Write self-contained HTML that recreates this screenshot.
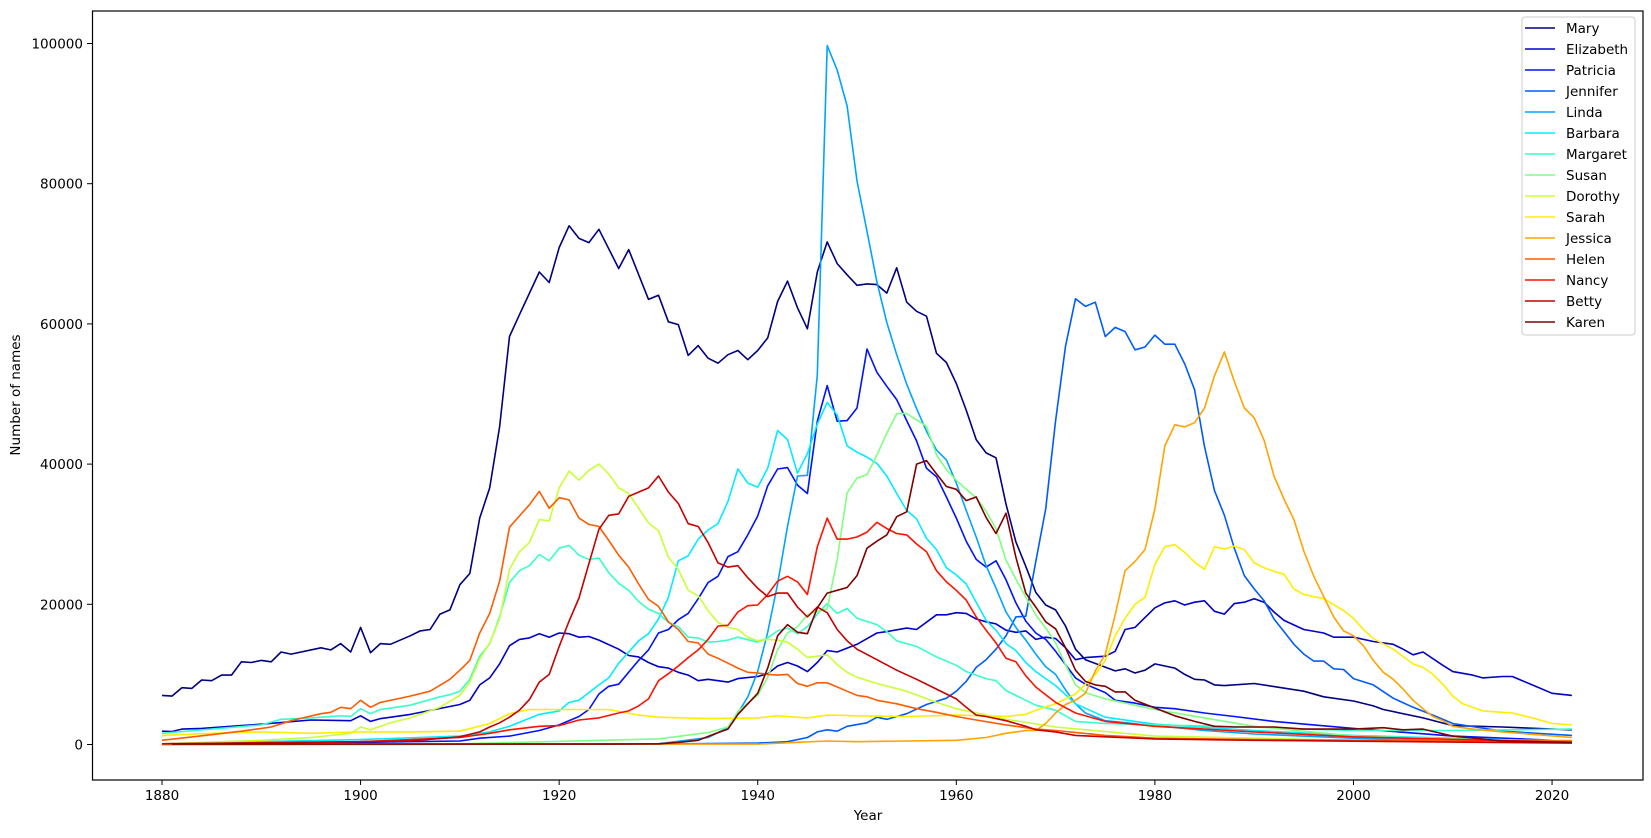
<!DOCTYPE html>
<html><head><meta charset="utf-8"><style>
html,body{margin:0;padding:0;background:#fff;}
svg text{font-family:"DejaVu Sans","Liberation Sans",sans-serif;fill:#000;}
</style></head><body>
<svg id="s" width="1651" height="833" xmlns="http://www.w3.org/2000/svg">
<rect x="0" y="0" width="1651" height="833" fill="#fff"/>
<g id="lines"></g>
<rect x="92.5" y="11" width="1550.5" height="769" fill="none" stroke="#000" stroke-width="1.2"/>
<g id="ticks" font-size="13.5"></g>
<text x="868" y="820" font-size="13.5" text-anchor="middle">Year</text>
<text transform="translate(20,395) rotate(-90)" font-size="13.5" text-anchor="middle">Number of names</text>
<g id="legend"></g>
</svg>
<script>
var X=function(y){return 162+(y-1880)*9.929;};
var Y=function(v){return 744.5-v*7.01;};
var S=[
["Mary","#000080",[1880,7,1881,6.9,1882,8.1,1883,8,1884,9.2,1885,9.1,1886,9.9,1887,9.9,1888,11.8,1889,11.7,1890,12,1891,11.8,1892,13.2,1893,12.9,1896,13.8,1897,13.5,1898,14.4,1899,13.2,1900,16.7,1901,13.1,1902,14.4,1903,14.3,1905,15.5,1906,16.2,1907,16.4,1908,18.6,1909,19.2,1910,22.8,1911,24.4,1912,32.3,1913,36.6,1914,45.3,1915,58.2,1916,61.3,1918,67.4,1919,65.9,1920,70.9,1921,74,1922,72.2,1923,71.6,1924,73.5,1926,67.9,1927,70.6,1929,63.5,1930,64.1,1931,60.3,1932,59.9,1933,55.5,1934,56.9,1935,55.1,1936,54.4,1937,55.6,1938,56.2,1939,54.9,1940,56.2,1941,58,1942,63.2,1943,66.1,1944,62.3,1945,59.3,1946,67.4,1947,71.7,1948,68.6,1949,67,1950,65.5,1951,65.7,1952,65.6,1953,64.4,1954,68,1955,63.1,1956,61.8,1957,61.1,1958,55.8,1959,54.5,1960,51.5,1961,47.7,1962,43.5,1963,41.6,1964,40.9,1965,34.3,1966,28.9,1967,25.4,1968,21.7,1969,19.9,1970,19.2,1971,16.9,1972,13.6,1973,12.1,1976,10.5,1977,10.8,1978,10.2,1979,10.6,1980,11.5,1982,10.9,1983,10,1984,9.3,1985,9.2,1986,8.5,1987,8.4,1990,8.7,1995,7.6,1997,6.8,2000,6.2,2002,5.5,2003,5,2007,3.8,2010,2.7,2015,2.5,2020,2.2,2022,2.1]],
["Elizabeth","#0000c8",[1880,1.9,1881,1.85,1882,2.2,1884,2.3,1888,2.7,1890,2.9,1895,3.5,1899,3.4,1900,4.1,1901,3.3,1902,3.7,1905,4.3,1910,5.7,1911,6.3,1912,8.5,1913,9.5,1914,11.5,1915,14.1,1916,15,1917,15.2,1918,15.8,1919,15.3,1920,15.9,1921,15.8,1922,15.3,1923,15.4,1924,14.9,1926,13.6,1927,12.7,1928,12.5,1929,11.7,1930,11.1,1931,10.9,1932,10.3,1933,9.9,1934,9.1,1935,9.3,1936,9.1,1937,8.9,1938,9.4,1940,9.7,1941,10.1,1942,11.2,1943,11.7,1944,11.2,1945,10.4,1946,11.7,1947,13.4,1948,13.2,1950,14.3,1952,15.9,1953,16.1,1955,16.6,1956,16.4,1958,18.5,1959,18.5,1960,18.8,1961,18.7,1962,17.9,1963,17.5,1964,17.2,1965,16.3,1966,16,1967,16.2,1968,15,1969,15.3,1970,15.1,1971,13.8,1972,12.1,1973,12.4,1975,12.6,1976,13.3,1977,16.4,1978,16.7,1980,19.5,1981,20.2,1982,20.5,1983,19.9,1984,20.3,1985,20.5,1986,19,1987,18.6,1988,20.1,1989,20.3,1990,20.8,1991,20.3,1992,18.9,1993,17.7,1995,16.4,1997,15.9,1998,15.3,2000,15.3,2002,14.7,2004,14.3,2005,13.6,2006,12.8,2007,13.2,2009,11.3,2010,10.4,2012,9.9,2013,9.5,2015,9.7,2016,9.7,2018,8.5,2020,7.3,2022,7]],
["Patricia","#0012ff",[1880,0.1,1900,0.3,1910,0.5,1912,0.9,1915,1.2,1918,2,1920,2.8,1922,4,1923,5,1924,7.2,1925,8.3,1926,8.6,1928,12,1929,13.5,1930,15.9,1931,16.4,1932,17.8,1933,18.7,1934,20.8,1935,23.1,1936,24,1937,26.8,1938,27.5,1939,29.9,1940,32.6,1941,36.9,1942,39.3,1943,39.5,1944,37,1945,35.8,1946,46.1,1947,51.2,1948,46.1,1949,46.2,1950,48,1951,56.4,1952,53.1,1953,51.1,1954,49.2,1955,46.2,1956,43.3,1957,39.4,1958,38.2,1959,35.3,1960,32.3,1961,29,1962,26.4,1963,25.3,1964,26.2,1965,23.5,1966,20.2,1967,17.6,1968,15.9,1969,15,1970,13.3,1971,11.4,1972,9.5,1973,8.6,1975,7.4,1976,6.3,1978,5.9,1980,5.3,1982,5.1,1985,4.5,1988,4,1992,3.3,2000,2.3,2010,1.2,2022,0.5]],
["Jennifer","#005bff",[1880,0,1930,0.05,1940,0.2,1943,0.4,1945,1,1946,1.8,1947,2.1,1948,1.9,1949,2.6,1951,3.1,1952,3.9,1953,3.6,1955,4.4,1957,5.7,1959,6.6,1960,7.6,1961,9,1962,11,1963,12.1,1964,13.6,1965,15.5,1966,18.2,1967,18.3,1968,26.1,1969,33.6,1970,46.2,1971,56.8,1972,63.6,1973,62.5,1974,63.1,1975,58.2,1976,59.5,1977,58.9,1978,56.3,1979,56.7,1980,58.4,1981,57.1,1982,57.1,1983,54.3,1984,50.6,1985,42.5,1986,36.2,1987,32.7,1988,28,1989,24.1,1990,22.2,1991,20.5,1992,17.9,1993,16.1,1994,14.3,1995,12.9,1996,11.9,1997,11.9,1998,10.8,1999,10.7,2000,9.4,2002,8.5,2004,6.6,2006,5.3,2008,4.2,2010,3,2015,1.9,2022,1.3]],
["Linda","#00a4ff",[1880,0.03,1930,0.1,1935,1,1937,2.4,1938,4.5,1939,6.8,1940,10.4,1941,16,1942,22.9,1943,31.1,1944,38.3,1945,38.4,1946,52.7,1947,99.7,1948,96.2,1949,91.1,1950,80.4,1951,73.2,1952,66,1953,60.2,1954,55.6,1955,51.4,1956,47.9,1957,44.7,1958,42,1959,40.6,1960,37.3,1961,33.4,1962,29.6,1963,25.5,1964,22.3,1965,18.9,1966,16.7,1967,14.9,1968,12.9,1969,11.1,1970,10,1971,7.8,1972,5.8,1973,4.5,1975,3.4,1980,2.7,1985,2,1990,1.5,2000,0.9,2022,0.3]],
["Barbara","#00edff",[1880,0.1,1900,0.7,1910,1.2,1913,1.8,1915,2.6,1918,4.3,1920,4.8,1921,6,1922,6.3,1923,7.4,1924,8.5,1925,9.5,1926,11.6,1927,13.2,1928,14.8,1929,15.8,1930,17.9,1931,21,1932,26.2,1933,26.9,1934,29.3,1935,30.6,1936,31.5,1937,34.7,1938,39.3,1939,37.3,1940,36.7,1941,39.4,1942,44.8,1943,43.5,1944,38.7,1945,41.5,1946,45.7,1947,48.8,1948,47,1949,42.6,1950,41.7,1951,41,1952,40.1,1953,38.3,1954,35.8,1955,33.4,1956,32.2,1957,29.4,1958,27.8,1959,25.2,1960,24.2,1961,22.9,1962,20.3,1963,17.7,1964,16.3,1965,14.4,1966,13.4,1967,11.7,1968,10.4,1970,8.4,1972,5.8,1975,3.9,1980,2.9,1990,2,2000,1.3,2022,0.4]],
["Margaret","#36ffc8",[1880,1.6,1885,2.2,1890,2.8,1892,3.6,1895,3.8,1898,4.1,1899,4,1900,5.1,1901,4.4,1902,5,1905,5.6,1908,6.8,1909,7.1,1910,7.6,1911,9.3,1912,12.6,1913,14.4,1914,18.2,1915,23.1,1916,24.8,1917,25.5,1918,27.1,1919,26.2,1920,28,1921,28.4,1922,27,1923,26.4,1924,26.6,1925,24.5,1926,23,1927,22,1928,20.4,1929,19.3,1930,18.7,1931,17.4,1932,16.8,1933,15.3,1934,15.2,1935,14.6,1936,14.7,1937,14.9,1938,15.3,1940,14.6,1941,15.2,1942,16.2,1943,16.6,1944,15.8,1945,16.8,1946,18.6,1947,20.1,1948,18.7,1949,19.4,1950,18,1952,17.1,1953,16.1,1954,14.8,1956,14,1958,12.5,1960,11.3,1961,10.4,1963,9.4,1964,9.1,1965,7.7,1967,6.3,1968,5.6,1970,4.9,1971,4.1,1972,3.3,1975,3,1980,2.8,1990,2.5,1995,2.2,2000,2,2010,2,2022,2.2]],
["Susan","#80ff80",[1880,0.05,1910,0.1,1930,0.8,1935,1.7,1937,2.5,1938,4.7,1939,5.9,1940,7,1941,9.6,1942,13.5,1943,15.9,1944,16.8,1945,18.5,1946,19,1947,19.3,1948,26.4,1949,35.9,1950,38,1951,38.5,1952,41.3,1953,44.4,1954,47.2,1955,47.2,1956,46.3,1957,45.4,1958,41.3,1959,39.2,1960,37.7,1961,36.4,1962,35.2,1963,33.3,1964,30.8,1965,26.3,1966,23.6,1967,21,1968,18.5,1969,16.6,1970,14.5,1971,11.4,1972,8.5,1973,7.4,1975,6.5,1978,5.6,1980,5,1985,3.8,1990,2.6,2000,1.2,2022,0.3]],
["Dorothy","#c8ff36",[1880,0.1,1890,0.6,1895,1,1899,1.6,1900,2.5,1901,2.1,1903,3.1,1905,3.8,1908,5.3,1910,7,1911,8.9,1912,12.2,1913,14.5,1914,17.9,1915,25,1916,27.5,1917,28.8,1918,32.1,1919,31.9,1920,36.6,1921,39,1922,37.7,1923,39.1,1924,40,1925,38.6,1926,36.6,1927,35.8,1928,33.7,1929,31.6,1930,30.5,1931,26.7,1932,25,1933,22,1934,21.2,1935,19.1,1936,17.4,1937,16.7,1938,16.4,1939,15.3,1940,14.8,1941,15,1942,14.9,1943,14.6,1944,13.6,1945,12.4,1946,12.6,1947,12.8,1948,11.4,1949,10.3,1950,9.6,1952,8.7,1955,7.6,1958,6,1960,5.1,1965,3.6,1970,2.5,1980,1.2,2000,0.6,2022,0.6]],
["Sarah","#ffed00",[1880,1.3,1885,1.6,1890,1.8,1895,1.6,1900,1.8,1905,1.8,1910,1.9,1913,3,1915,4.4,1917,5,1920,5,1925,5,1928,4.2,1930,3.9,1935,3.7,1940,3.8,1942,4.1,1945,3.8,1947,4.2,1950,4.1,1955,4,1960,4.2,1965,4,1967,4.3,1968,4.9,1970,5.8,1972,7.2,1974,10,1975,12,1976,15.5,1977,18,1978,20,1979,21,1980,25.7,1981,28.2,1982,28.5,1983,27.4,1984,26,1985,25,1986,28.2,1987,27.9,1988,28.3,1989,27.8,1990,25.9,1991,25.2,1992,24.7,1993,24.3,1994,22.2,1995,21.4,1997,20.8,1999,19.1,2000,18,2001,16.4,2002,15.1,2004,13.6,2006,11.5,2007,11,2008,10,2009,8.6,2010,6.9,2011,5.8,2013,4.8,2016,4.5,2018,3.8,2020,3,2022,2.8]],
["Jessica","#ffa400",[1880,0.05,1940,0.05,1947,0.5,1950,0.4,1960,0.6,1963,1,1965,1.6,1967,2,1968,2,1969,3,1970,4.5,1971,5.7,1972,6.3,1973,7.3,1974,10.5,1975,12.9,1976,18.5,1977,24.8,1978,26.1,1979,27.8,1980,33.6,1981,42.6,1982,45.6,1983,45.3,1984,45.9,1985,48,1986,52.6,1987,56,1988,51.8,1989,48,1990,46.6,1991,43.4,1992,38.3,1993,35,1994,32.1,1995,27.6,1996,24,1997,21.1,1998,18.2,1999,16.2,2000,15.5,2001,14.1,2002,12,2003,10.3,2004,9.3,2005,7.9,2006,6.3,2007,5.1,2008,4,2009,3.4,2010,2.6,2012,2.2,2015,1.8,2022,1]],
["Helen","#ff5b00",[1880,0.6,1885,1.4,1888,1.9,1890,2.3,1891,2.5,1893,3.4,1896,4.4,1897,4.6,1898,5.3,1899,5.1,1900,6.3,1901,5.3,1902,6,1905,6.9,1907,7.6,1909,9.3,1910,10.6,1911,12,1912,15.9,1913,18.7,1914,23.3,1915,31,1916,32.6,1917,34.2,1918,36.1,1919,33.7,1920,35.2,1921,34.9,1922,32.3,1923,31.4,1924,31.1,1925,29.1,1926,27,1927,25.3,1928,22.9,1929,20.7,1930,19.7,1931,17.5,1932,16.4,1933,14.7,1934,14.5,1935,12.9,1936,12.3,1937,11.6,1938,10.9,1939,10.3,1940,10.2,1941,10,1942,9.9,1943,10,1944,8.7,1945,8.3,1946,8.8,1947,8.8,1948,8.2,1949,7.6,1950,7,1951,6.8,1952,6.3,1954,5.8,1956,5.1,1958,4.6,1960,4,1962,3.5,1965,2.8,1968,2.2,1970,2,1975,1.3,1980,0.9,1990,0.7,2000,0.6,2022,0.5]],
["Nancy","#ff1200",[1880,0.1,1890,0.2,1900,0.4,1905,0.7,1910,1,1913,1.6,1915,2.1,1918,2.6,1920,2.7,1922,3.5,1924,3.8,1926,4.5,1927,4.8,1928,5.5,1929,6.5,1930,9.1,1931,10.1,1932,11.2,1933,12.4,1934,13.5,1935,15,1936,16.9,1937,17,1938,18.9,1939,19.8,1940,19.9,1941,21.4,1942,23.3,1943,24,1944,23.2,1945,21.4,1946,28.2,1947,32.3,1948,29.3,1949,29.3,1950,29.6,1951,30.3,1952,31.7,1953,30.8,1954,30.1,1955,29.9,1956,28.6,1957,27.5,1958,24.8,1959,23.2,1960,22,1961,20.6,1962,18.2,1963,16.3,1964,14.5,1965,12.3,1966,11.8,1967,9.8,1968,8.2,1969,7.1,1970,6,1972,4.5,1975,3.3,1980,2.6,1985,2.2,1990,1.8,2000,1.1,2022,0.3]],
["Betty","#c80000",[1880,0.1,1900,0.4,1905,0.5,1910,1.1,1912,1.8,1913,2.5,1914,3.1,1915,3.9,1916,4.9,1917,6.4,1918,8.9,1919,10,1920,14,1921,17.6,1922,20.9,1923,25.8,1924,30.7,1925,32.7,1926,32.9,1927,35.4,1928,36,1929,36.6,1930,38.3,1931,36,1932,34.4,1933,31.5,1934,31.1,1935,28.8,1936,25.9,1937,25.3,1938,25.5,1939,23.8,1940,22.3,1941,21.1,1942,21.6,1943,21.6,1944,19.6,1945,18.2,1946,19.6,1947,18.8,1948,16.4,1949,14.8,1950,13.6,1952,12.1,1954,10.6,1956,9.3,1958,7.9,1960,6.5,1961,5.3,1962,4.2,1963,4,1965,3.4,1967,2.6,1968,2.1,1970,1.8,1972,1.3,1975,1.1,1980,0.8,1990,0.6,2022,0.2]],
["Karen","#800000",[1881,0.05,1925,0.05,1930,0.1,1932,0.3,1934,0.6,1936,1.7,1937,2.2,1938,4.3,1939,5.8,1940,7.3,1941,10.9,1942,15.5,1943,17.1,1944,16,1945,15.8,1946,19.5,1947,21.6,1948,22,1949,22.4,1950,24.1,1951,28,1952,29,1953,29.9,1954,32.5,1955,33.2,1956,40,1957,40.5,1958,38.6,1959,36.8,1960,36.4,1961,34.8,1962,35.3,1963,32.4,1964,30.1,1965,33,1966,26.7,1967,21.6,1968,19.6,1969,17.5,1970,16.5,1971,13.8,1972,10.6,1973,9,1974,8.5,1975,8.3,1976,7.5,1977,7.5,1978,6.3,1980,5.2,1982,4.1,1984,3.3,1986,2.6,1988,2.5,1990,2.5,1992,2.5,1995,2.2,2000,2.2,2003,2.4,2005,2.1,2007,2.2,2010,1.2,2015,0.5,2022,0.3]]
];
var NS="http://www.w3.org/2000/svg";
function el(t,a,p){var e=document.createElementNS(NS,t);for(var k in a)e.setAttribute(k,a[k]);p.appendChild(e);return e;}
var L=document.getElementById("lines");
S.forEach(function(s){
  var d=s[2],pts=[];
  for(var i=0;i<d.length;i+=2)pts.push(X(d[i]).toFixed(1)+","+Y(d[i+1]).toFixed(1));
  el("polyline",{points:pts.join(" "),fill:"none",stroke:s[1],"stroke-width":1.6,"stroke-linejoin":"round"},L);
});
var T=document.getElementById("ticks");
for(var y=1880;y<=2020;y+=20){var x=X(y);el("line",{x1:x,y1:780,x2:x,y2:785,stroke:"#000"},T);var t=el("text",{x:x,y:800,"text-anchor":"middle"},T);t.textContent=y;}
for(var v=0;v<=100;v+=20){var yy=Y(v);el("line",{x1:87,y1:yy,x2:92.5,y2:yy,stroke:"#000"},T);var t2=el("text",{x:83,y:yy+5,"text-anchor":"end"},T);t2.textContent=v*1000;}
var G=document.getElementById("legend");
el("rect",{x:1522,y:17,width:113,height:318,rx:3,fill:"#fff","fill-opacity":0.8,stroke:"#ccc"},G);
S.forEach(function(s,i){var yy=28+i*21;el("line",{x1:1525,y1:yy,x2:1555,y2:yy,stroke:s[1],"stroke-width":1.6},G);var t=el("text",{x:1566,y:yy+5,"font-size":13.5},G);t.textContent=s[0];});
</script>
</body></html>
